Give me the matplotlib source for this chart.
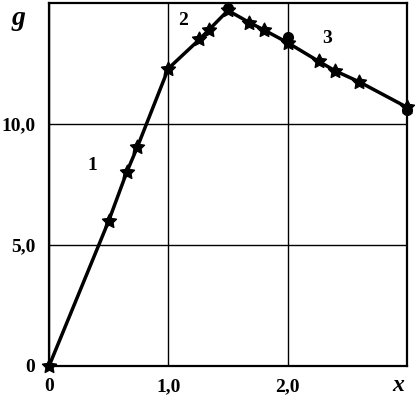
import matplotlib
matplotlib.use("Agg")
import matplotlib.pyplot as plt

plt.rcParams['font.family'] = ['Liberation Serif', 'DejaVu Serif']
plt.rcParams['font.weight'] = 'bold'

# curve points (x, g)
x_pts = [0.0, 0.5, 0.65, 0.74, 1.0, 1.26, 1.34, 1.5, 1.68, 1.8, 2.0, 2.26, 2.4, 2.6, 3.0]
g_pts = [0.0, 6.0, 8.0, 9.05, 12.3, 13.5, 13.9, 14.7, 14.2, 13.9, 13.37, 12.6, 12.2, 11.75, 10.7]
# round markers
x_circ = [1.5, 2.0, 3.0]
g_circ = [14.8, 13.6, 10.6]
# segment labels
seg_x = [0.36, 1.12, 2.33]
seg_y = [8.3, 14.3, 13.55]
seg_txt = ["1", "2", "3"]

xticks = [0, 1.0, 2.0]
xtick_labels = ["0", "1,0", "2,0"]
yticks = [0, 5.0, 10.0]
ytick_labels = ["0", "5,0", "10,0"]

fig = plt.figure(figsize=(4.16, 4.03), dpi=100)
ax = fig.add_axes([0.118, 0.092, 0.86, 0.9])

ax.plot(x_pts, g_pts, color='black', lw=2.5, marker=(5, 1, 0), ms=11,
        markeredgewidth=0.8, markerfacecolor='black', zorder=3, clip_on=False)
ax.plot(x_circ, g_circ, 'o', color='black', ms=7, zorder=4, clip_on=False)

for xs, ys, t in zip(seg_x, seg_y, seg_txt):
    ax.text(xs, ys, t, fontsize=14, fontweight='bold', ha='center', va='center')

ax.set_xlim(0, 3.0)
ax.set_ylim(0, 15.0)
ax.set_xticks(xticks)
ax.set_xticklabels(xtick_labels)
ax.set_yticks(yticks)
ax.set_yticklabels(ytick_labels)
ax.tick_params(length=0, labelsize=14, pad=10)
ax.tick_params(axis='x', pad=9)
ax.grid(True, color='black', lw=1.0)
for s in ax.spines.values():
    s.set_linewidth(1.6)

ax.text(2.93, -0.8, "x", fontsize=17, fontstyle='italic', fontweight='bold',
        ha='center', va='center', clip_on=False)
ax.text(-0.26, 14.35, "g", fontsize=20, fontstyle='italic', fontweight='bold',
        ha='center', va='center', clip_on=False)

fig.savefig("out.png", dpi=100)
